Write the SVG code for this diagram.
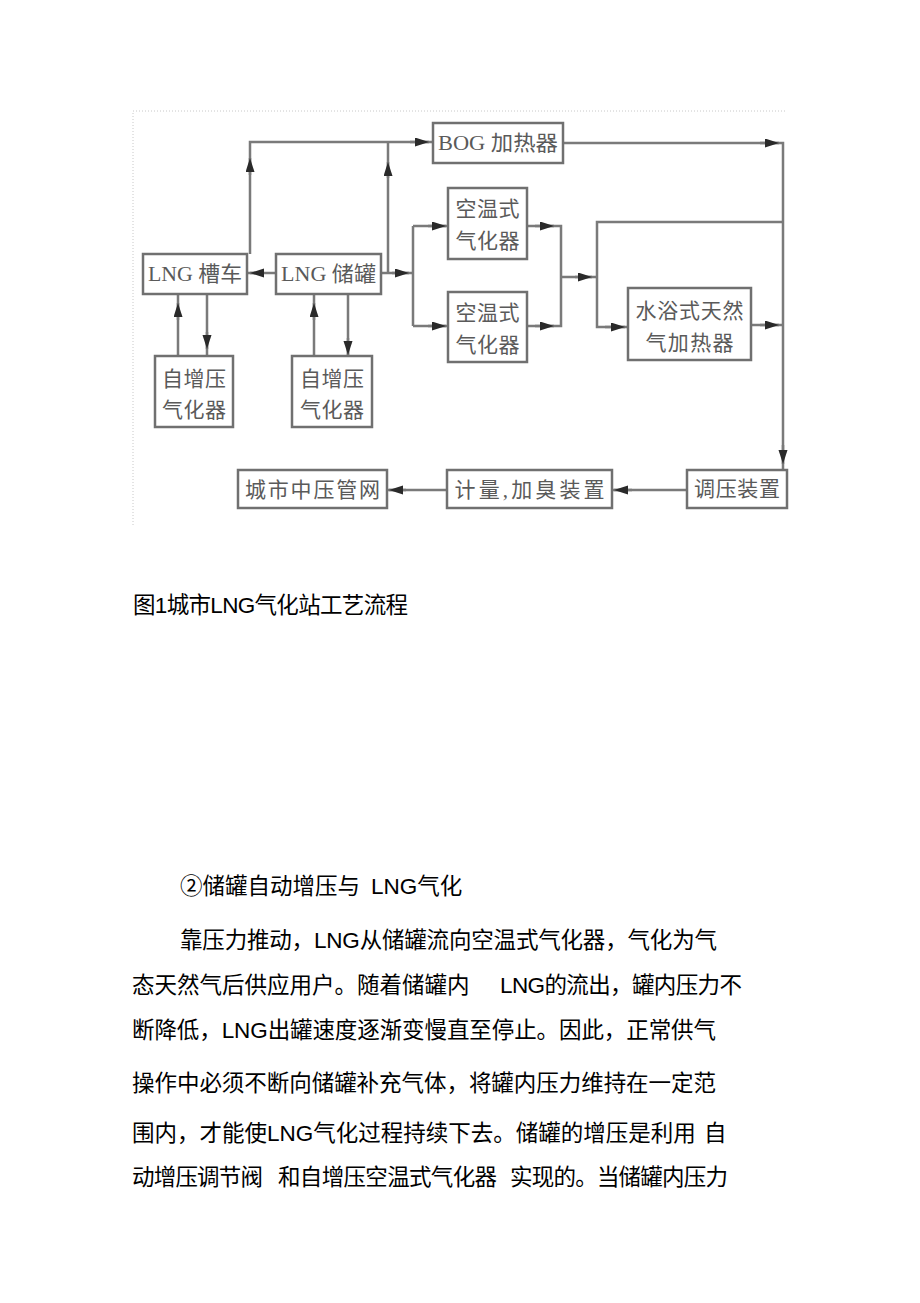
<svg xmlns="http://www.w3.org/2000/svg" width="920" height="1303" viewBox="0 0 920 1303">
<style>
.box{fill:#fff;stroke:#707070;stroke-width:2.5}
.lbl{font-family:"Liberation Serif","Noto Sans CJK SC",serif;font-size:21px;fill:#5a5a5a;text-anchor:middle}
.ln{fill:none;stroke:#7a7a7a;stroke-width:2.5}
.ar{fill:none;stroke:#7a7a7a;stroke-width:2.5}
.frame{fill:none;stroke:#c8c8c8;stroke-width:1;stroke-dasharray:1 2}
.body{font-family:"Liberation Sans","Noto Sans CJK SC",sans-serif;font-size:22.5px;fill:#000}
</style>
<defs>
<marker id="a" markerUnits="userSpaceOnUse" markerWidth="16" markerHeight="10" refX="14" refY="4.5" orient="auto">
<path d="M0,0 L14,4.5 L0,9 z" fill="#2a2a2a"/>
</marker>
</defs>
<rect width="920" height="1303" fill="#fff"/>
<path class="frame" d="M133,525 V111 H787"/>
<g id="connectors">
<path class="ln" d="M276,273 H247"/>
<path class="ln" d="M250,254 V142 H433"/>
<path class="ln" d="M381,273 H413 M388,273 V142"/>
<path class="ln" d="M413,226 V326 M413,226 H448 M413,326 H448"/>
<path class="ln" d="M527,226 H561 V326 H527 M561,277 H597"/>
<path class="ln" d="M783,222 H597 V327 H628"/>
<path class="ln" d="M751,325 H783"/>
<path class="ln" d="M563,143 H783 V470"/>
<path class="ln" d="M687,490 H612 M447,490 H387"/>
<path class="ln" d="M178,356 V294 M207,294 V356 M314,356 V294 M348,294 V356"/>
<path class="ar" d="M262,273 H250" marker-end="url(#a)"/>
<path class="ar" d="M250,175 V158" marker-end="url(#a)"/>
<path class="ar" d="M410,142 H429" marker-end="url(#a)"/>
<path class="ar" d="M388,178 V162" marker-end="url(#a)"/>
<path class="ar" d="M392,273 H409" marker-end="url(#a)"/>
<path class="ar" d="M428,226 H446" marker-end="url(#a)"/>
<path class="ar" d="M428,326 H446" marker-end="url(#a)"/>
<path class="ar" d="M535,226 H554" marker-end="url(#a)"/>
<path class="ar" d="M535,326 H554" marker-end="url(#a)"/>
<path class="ar" d="M575,277 H592" marker-end="url(#a)"/>
<path class="ar" d="M605,327 H625" marker-end="url(#a)"/>
<path class="ar" d="M760,325 H779" marker-end="url(#a)"/>
<path class="ar" d="M760,143 H779" marker-end="url(#a)"/>
<path class="ar" d="M783,445 V464" marker-end="url(#a)"/>
<path class="ar" d="M632,490 H614" marker-end="url(#a)"/>
<path class="ar" d="M406,490 H389" marker-end="url(#a)"/>
<path class="ar" d="M178,320 V303" marker-end="url(#a)"/>
<path class="ar" d="M207,332 V349" marker-end="url(#a)"/>
<path class="ar" d="M314,320 V303" marker-end="url(#a)"/>
<path class="ar" d="M348,338 V355" marker-end="url(#a)"/>
</g>
<g id="tanker"><rect class="box" x="143" y="254" width="104" height="40"/><text class="lbl" x="195" y="281" textLength="94" lengthAdjust="spacingAndGlyphs">LNG 槽车</text></g>
<g id="tank"><rect class="box" x="276" y="254" width="105" height="40"/><text class="lbl" x="328.5" y="281" textLength="95" lengthAdjust="spacingAndGlyphs">LNG 储罐</text></g>
<g id="bog"><rect class="box" x="433" y="123" width="130" height="40"/><text class="lbl" x="498" y="150" textLength="120" lengthAdjust="spacingAndGlyphs">BOG 加热器</text></g>
<g id="vap1"><rect class="box" x="448" y="188" width="79" height="71"/><text class="lbl" x="487.5" y="216" textLength="64">空温式</text><text class="lbl" x="487.5" y="248" textLength="64">气化器</text></g>
<g id="vap2"><rect class="box" x="448" y="292" width="79" height="70"/><text class="lbl" x="487.5" y="320" textLength="64">空温式</text><text class="lbl" x="487.5" y="352" textLength="64">气化器</text></g>
<g id="waterbath"><rect class="box" x="628" y="288" width="123" height="72"/><text class="lbl" x="689.5" y="318" textLength="108">水浴式天然</text><text class="lbl" x="689.5" y="350" textLength="88">气加热器</text></g>
<g id="selfpress1"><rect class="box" x="155" y="356" width="78" height="71"/><text class="lbl" x="194" y="386" textLength="64">自增压</text><text class="lbl" x="194" y="417" textLength="64">气化器</text></g>
<g id="selfpress2"><rect class="box" x="292" y="356" width="80" height="71"/><text class="lbl" x="332" y="386" textLength="64">自增压</text><text class="lbl" x="332" y="417" textLength="64">气化器</text></g>
<g id="citynet"><rect class="box" x="238" y="470" width="149" height="38"/><text class="lbl" x="312.5" y="497" textLength="135">城市中压管网</text></g>
<g id="metering"><rect class="box" x="447" y="470" width="165" height="38"/><text class="lbl" x="529.5" y="497" textLength="150">计量,加臭装置</text></g>
<g id="regulator"><rect class="box" x="687" y="470" width="100" height="38"/><text class="lbl" x="737" y="496" textLength="86">调压装置</text></g>
<text class="body" x="133" y="613" font-size="21" textLength="275">图1城市LNG气化站工艺流程</text>
<text class="body" y="894"><tspan x="180">②储罐自动增压与</tspan><tspan x="371">LNG气化</tspan></text>
<text class="body" x="180" y="948" textLength="537">靠压力推动，LNG从储罐流向空温式气化器，气化为气</text>
<text class="body" y="993"><tspan x="132">态天然气后供应用户。随着储罐内</tspan><tspan x="500" textLength="242">LNG的流出，罐内压力不</tspan></text>
<text class="body" x="132" y="1038" textLength="584">断降低，LNG出罐速度逐渐变慢直至停止。因此，正常供气</text>
<text class="body" x="132" y="1091" textLength="584">操作中必须不断向储罐补充气体，将罐内压力维持在一定范</text>
<text class="body" y="1141"><tspan x="132">围内，才能使LNG气化过程持续下去。储罐的增压是利用</tspan><tspan x="704">自</tspan></text>
<text class="body" y="1185"><tspan x="132" textLength="131">动增压调节阀</tspan><tspan x="278" textLength="219">和自增压空温式气化器</tspan><tspan x="510" textLength="218">实现的。当储罐内压力</tspan></text>
</svg>
